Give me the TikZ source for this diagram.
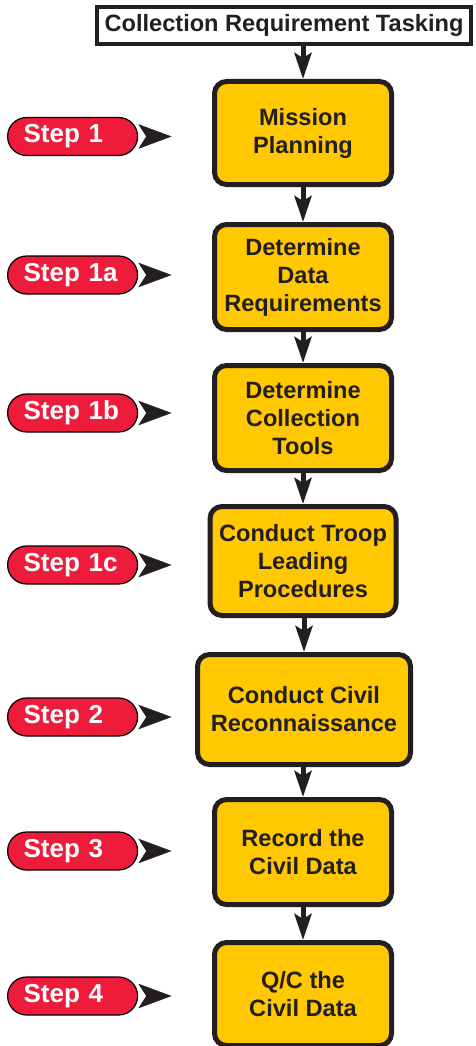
\documentclass[tikz,border=0pt]{standalone}
\usepackage{fontspec}
\setmainfont{Liberation Sans}
\usetikzlibrary{arrows.meta,calc}
\definecolor{boxyellow}{HTML}{FFC800}
\definecolor{stepred}{HTML}{EE1C3A}
\definecolor{inkdark}{HTML}{231F20}
\tikzset{
  stagebox/.style={draw=inkdark, fill=boxyellow, line width=5pt, rounded corners=12pt,
    text=inkdark, align=center, inner sep=0pt,
    font=\bfseries\fontsize{23.6}{28}\selectfont},
  headbox/.style={draw=inkdark, fill=white, line width=4pt, inner sep=0pt,
    text=inkdark, font=\bfseries\fontsize{23.6}{28}\selectfont},
  steppill/.style={draw=black, fill=stepred, line width=1.2pt, rounded corners=19pt,
    minimum height=38pt, text width=114pt, inner xsep=8pt, inner ysep=0pt, align=left,
    text=white, anchor=west, font=\bfseries\fontsize{26}{28}\selectfont},
  flow/.style={draw=inkdark, line width=5pt,
    -{Stealth[length=26pt,width=17pt,inset=5pt]}},
  steptipstyle/.style={fill=inkdark, draw=white, line width=1.4pt, line join=miter}
}
% pointer head from a step marker (#1) to its target coordinate (#2)
\newcommand\steptip[2]{%
  \filldraw[steptipstyle] ($(#1.east)+(-2,-14)$) -- (#2)
    -- ($(#1.east)+(-2,14)$) -- ($(#1.east)+(7,0)$) -- cycle;}
\begin{document}
\begin{tikzpicture}[x=1pt,y=-1pt]
\useasboundingbox (0,0) rectangle (476,1046);

% header box
\node[headbox, minimum width=374pt, minimum height=37pt] (top) at (284,25.5)
  {Collection Requirement Tasking};

% process stages
\node[stagebox, minimum width=177pt, minimum height=103pt] (mp) at (303,133)
  {Mission\\Planning};
\node[stagebox, minimum width=177pt, minimum height=105pt] (dr) at (303,277)
  {Determine\\Data\\Requirements};
\node[stagebox, minimum width=177pt, minimum height=105pt] (dt) at (303,418)
  {Determine\\Collection\\Tools};
\node[stagebox, minimum width=186pt, minimum height=109pt] (tl) at (303,561)
  {Conduct Troop\\Leading\\Procedures};
\node[stagebox, minimum width=213pt, minimum height=110pt] (cr) at (304,709.5)
  {Conduct Civil\\Reconnaissance};
\node[stagebox, minimum width=177pt, minimum height=105pt] (rc) at (303,852)
  {Record the\\Civil Data};
\node[stagebox, minimum width=177pt, minimum height=103pt] (qc) at (303,994)
  {Q/C the\\Civil Data};

% flow between stages
\draw[flow] (top.south -| mp.north) -- (mp.north);
\draw[flow] (mp.south) -- (dr.north);
\draw[flow] (dr.south) -- (dt.north);
\draw[flow] (dt.south) -- (tl.north);
\draw[flow] (tl.south -| cr.north) -- (cr.north);
\draw[flow] (cr.south -| rc.north) -- (rc.north);
\draw[flow] (rc.south) -- (qc.north);

% step markers
\node[steppill] (s1)  at (7,136.5) {\hspace*{8pt}Step 1};
\node[steppill] (s1a) at (7,275)   {\hspace*{8pt}Step 1a};
\node[steppill] (s1b) at (7,413)   {\hspace*{8pt}Step 1b};
\node[steppill] (s1c) at (7,565)   {\hspace*{8pt}Step 1c};
\node[steppill] (s2)  at (7,717)   {\hspace*{8pt}Step 2};
\node[steppill] (s3)  at (7,851)   {\hspace*{8pt}Step 3};
\node[steppill] (s4)  at (7,996)   {\hspace*{8pt}Step 4};

\coordinate (p1)  at (174,136.5);
\coordinate (p1a) at (174,275);
\coordinate (p1b) at (174,413);
\coordinate (p1c) at (174,565);
\coordinate (p2)  at (174,717);
\coordinate (p3)  at (174,851);
\coordinate (p4)  at (174,996);

\steptip{s1}{p1}
\steptip{s1a}{p1a}
\steptip{s1b}{p1b}
\steptip{s1c}{p1c}
\steptip{s2}{p2}
\steptip{s3}{p3}
\steptip{s4}{p4}
\end{tikzpicture}
\end{document}
